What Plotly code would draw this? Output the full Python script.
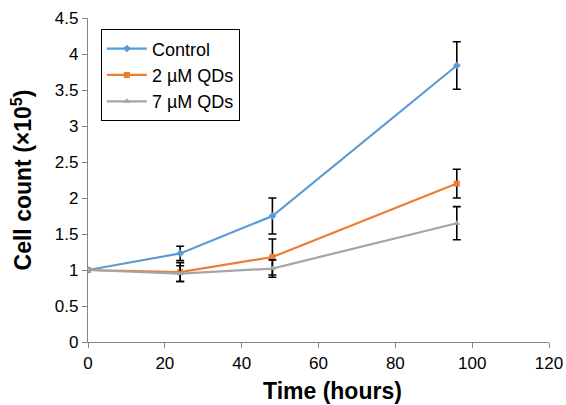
import plotly.graph_objects as go

time = [0, 24, 48, 96]
control = [1.0, 1.23, 1.75, 3.84]
control_err = [0.0, 0.10, 0.25, 0.33]
qd2 = [1.0, 0.97, 1.18, 2.20]
qd2_err = [0.0, 0.13, 0.25, 0.20]
qd7 = [1.0, 0.95, 1.02, 1.65]
qd7_err = [0.0, 0.11, 0.12, 0.23]

names = ["Control", "2 µM QDs", "7 µM QDs"]
colors = ["#5B9BD5", "#ED7D31", "#A5A5A5"]
symbols = ["diamond", "square", "triangle-up"]

FONT = "Liberation Sans, Arial, sans-serif"

fig = go.Figure()
for name, ys, errs, col, sym in zip(names, [control, qd2, qd7], [control_err, qd2_err, qd7_err], colors, symbols):
    fig.add_trace(go.Scatter(
        x=time, y=ys, name=name, mode="lines+markers",
        line=dict(color=col, width=2.2),
        marker=dict(symbol=sym, size=6, color=col),
        error_y=dict(type="data", array=errs, visible=True, color="black", thickness=1.6, width=4),
    ))

fig.update_layout(
    width=566, height=405,
    margin=dict(l=88, r=17, t=18, b=63),
    paper_bgcolor="white", plot_bgcolor="white",
    font=dict(family=FONT, size=17, color="black"),
    showlegend=True,
    legend=dict(x=0.028, y=0.965, xanchor="left", yanchor="top",
                bordercolor="black", borderwidth=1, bgcolor="white",
                font=dict(family=FONT, size=18, color="black"),
                tracegroupgap=0, itemwidth=40),
    xaxis=dict(range=[0, 120], tickvals=[0, 20, 40, 60, 80, 100, 120], showgrid=False,
               showline=True, linecolor="#868686", linewidth=1.2, ticks="outside", ticklen=5,
               tickcolor="#868686", zeroline=False, automargin=False,
               tickfont=dict(family=FONT, size=17, color="black")),
    yaxis=dict(range=[0, 4.5], tickvals=[0, 0.5, 1, 1.5, 2, 2.5, 3, 3.5, 4, 4.5],
               ticktext=["0", "0.5", "1", "1.5", "2", "2.5", "3", "3.5", "4", "4.5"],
               showgrid=False, showline=True, linecolor="#868686", linewidth=1.2,
               ticks="outside", ticklen=5, tickcolor="#868686", zeroline=False, automargin=False,
               tickfont=dict(family=FONT, size=17, color="black"),
               title=dict(text="<b>Cell count (×10<sup>5</sup>)</b>", font=dict(size=23, family=FONT, color="black"), standoff=16)),
    annotations=[dict(text="<b>Time (hours)</b>", xref="paper", yref="paper",
                      x=0.531, y=-0.152, xanchor="center", yanchor="middle", showarrow=False,
                      font=dict(size=23, family=FONT, color="black"))],
)
fig.write_html("out.html", config={"displayModeBar": False},
               post_script="document.body.style.margin='0';document.body.style.padding='0';")
